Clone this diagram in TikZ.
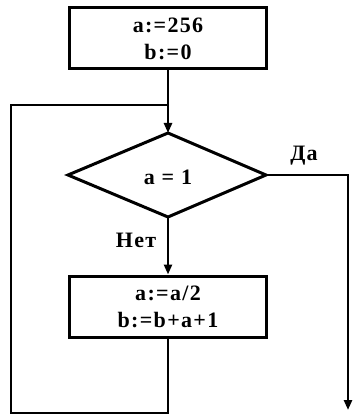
\documentclass[tikz,border=0pt]{standalone}
\usepackage{fontspec}
\setmainfont{Liberation Serif}
\newfontfamily\lblfont[LetterSpace=6]{Liberation Serif}
\usetikzlibrary{arrows.meta}
\begin{document}
\begin{tikzpicture}[x=1pt,y=-1pt,
  blk/.style={draw,line width=3pt,minimum width=197pt,minimum height=61pt,inner sep=0pt,
    align=center,font=\lblfont\bfseries\fontsize{22}{27}\selectfont},
  lbl/.style={font=\lblfont\bfseries\fontsize{22}{24}\selectfont,inner sep=0pt},
  conn/.style={line width=2.6pt},
  arr/.style={conn,-{Triangle[length=10pt,width=8pt]}}]
\useasboundingbox (0,0) rectangle (358,419);
\node[blk] (init) at (168,38.5) {a:=256\\b:=0};
\coordinate (dt) at (168,133);
\coordinate (dl) at (68,175);
\coordinate (dr) at (266,175);
\coordinate (db) at (168,217);
\draw[line width=3pt,line join=miter] (dt) -- (dr) -- (db) -- (dl) -- cycle;
\node[lbl] (cond) at (168,177) {a = 1};
\node[lbl] (yes) at (304,156) {Да};
\node[lbl] (no) at (136,240) {Нет};
\node[blk] (body) at (168,306.5) {a:=a/2\\b:=b+a+1};
\coordinate (join) at (168,105);
\coordinate (bl) at (168,413);
\coordinate (ll) at (11,413);
\coordinate (lt) at (11,105);
\coordinate (rt) at (348,175);
\coordinate (endp) at (348,410);
\draw[arr] (init.south) -- (dt);
\draw[arr] (db) -- (body.north);
\draw[conn] (body.south) -- (bl) -- (ll) -- (lt) -- (join);
\draw[arr] (dr) -- (rt) -- (endp);
\end{tikzpicture}
\end{document}
